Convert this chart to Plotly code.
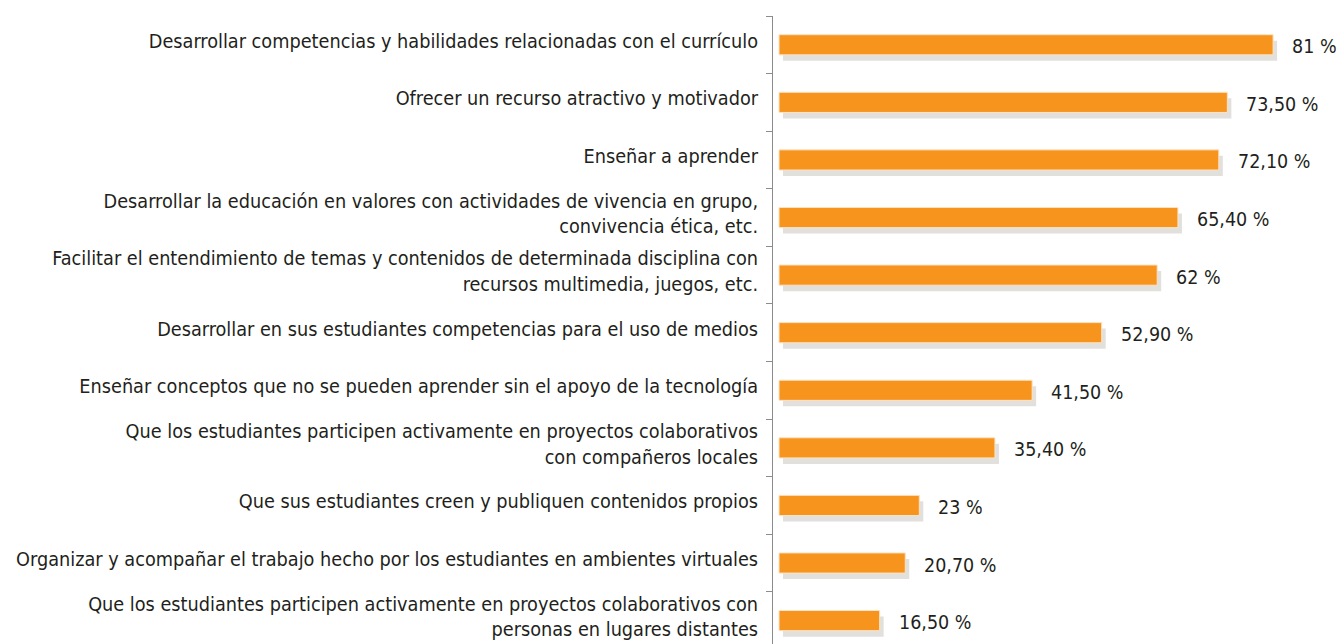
import plotly.graph_objects as go

# Survey answers, listed top to bottom as displayed
categories = [
    "Desarrollar competencias y habilidades relacionadas con el currículo",
    "Ofrecer un recurso atractivo y motivador",
    "Enseñar a aprender",
    "Desarrollar la educación en valores con actividades de vivencia en grupo,<br>convivencia ética, etc.",
    "Facilitar el entendimiento de temas y contenidos de determinada disciplina con<br>recursos multimedia, juegos, etc.",
    "Desarrollar en sus estudiantes competencias para el uso de medios",
    "Enseñar conceptos que no se pueden aprender sin el apoyo de la tecnología",
    "Que los estudiantes participen activamente en proyectos colaborativos<br>con compañeros locales",
    "Que sus estudiantes creen y publiquen contenidos propios",
    "Organizar y acompañar el trabajo hecho por los estudiantes en ambientes virtuales",
    "Que los estudiantes participen activamente en proyectos colaborativos con<br>personas en lugares distantes",
]
values = [81, 73.5, 72.1, 65.4, 62, 52.9, 41.5, 35.4, 23, 20.7, 16.5]
value_labels = ["81 %", "73,50 %", "72,10 %", "65,40 %", "62 %", "52,90 %",
                "41,50 %", "35,40 %", "23 %", "20,70 %", "16,50 %"]

FONT = "Liberation Sans Narrow, DejaVu Sans Condensed, Roboto, sans-serif"
TEXT = "#231f20"
ORANGE = "#f7941e"
SHADOW = "#e2e0dc"

W, H = 1340, 644
L, T = 773, 16
plot_w = W - L
plot_h = H - T
px_per_x = 6.1
x0 = -6 / px_per_x
x_range = [x0, x0 + plot_w / px_per_x]
px_per_cat = 57.58
y_top = len(categories) - 0.5
y_range = [y_top - plot_h / px_per_cat, y_top]

# shadow axes: same scales, shifted a few pixels right and down
dx, dy = 4, 6
x_range_s = [x_range[0] - dx / px_per_x, x_range[1] - dx / px_per_x]
y_range_s = [y_range[0] + dy / px_per_cat, y_range[1] + dy / px_per_cat]

order = list(reversed(categories))

fig = go.Figure()
# drop shadow on the base axes
fig.add_trace(go.Bar(
    x=values, y=categories, orientation="h", width=0.35,
    marker=dict(color=SHADOW, line=dict(width=0)),
    hoverinfo="skip", showlegend=False,
))
# orange bars on the overlaying axes, drawn on top
fig.add_trace(go.Bar(
    x=values, y=categories, orientation="h", width=0.35,
    marker=dict(color=ORANGE, line=dict(color="#fde3c4", width=1)),
    xaxis="x2", yaxis="y2", showlegend=False,
))

for v, c, lab in zip(values, categories, value_labels):
    fig.add_annotation(x=v, y=c, xref="x2", yref="y2", text=lab,
                       showarrow=False, xanchor="left", xshift=17, yshift=-2,
                       font=dict(family=FONT, size=19.5, color=TEXT))

fig.update_layout(
    width=W, height=H,
    margin=dict(l=L, r=0, t=T, b=0),
    paper_bgcolor="white", plot_bgcolor="white",
    barmode="overlay",
    font=dict(family=FONT, size=19.7, color=TEXT),
    xaxis=dict(range=x_range_s, visible=False, fixedrange=True),
    yaxis=dict(
        type="category", categoryorder="array", categoryarray=order,
        range=y_range_s, visible=False, automargin=False,
    ),
    xaxis2=dict(range=x_range, visible=False, overlaying="x"),
    yaxis2=dict(
        type="category", categoryorder="array", categoryarray=order,
        range=y_range, overlaying="y", side="left", anchor="x2",
        automargin=False,
        showline=True, linecolor="#8c8c8c", linewidth=1,
        ticks="outside", tickson="boundaries", ticklen=6, tickcolor="#8c8c8c",
        ticklabelstandoff=10, ticklabelshift=-4, showgrid=False, zeroline=False,
        tickfont=dict(family=FONT, size=19.7, color=TEXT),
    ),
)

fig.write_html("out.html")
